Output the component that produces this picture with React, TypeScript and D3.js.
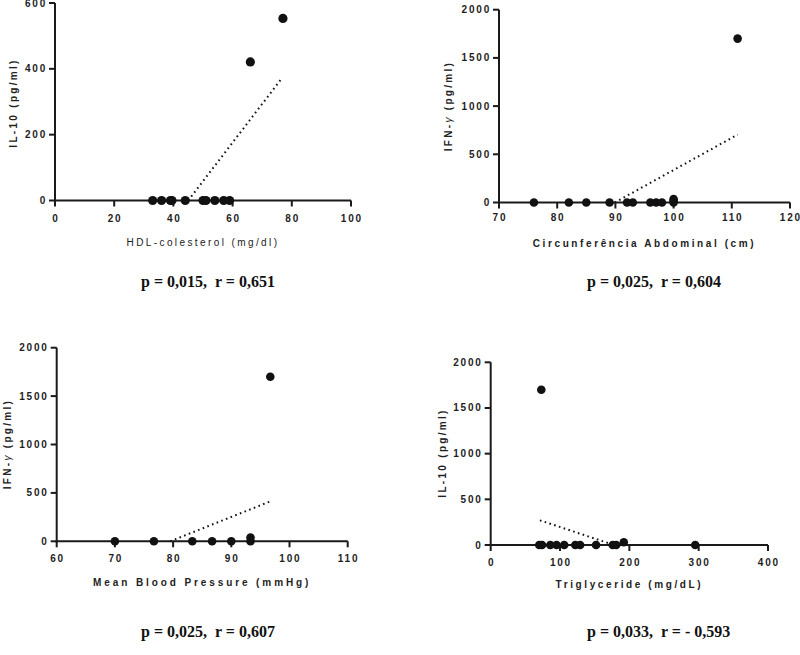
import React from "react";
import * as d3 from "d3";

// ---- Data ----
const hdlX = [33, 36, 39, 39.5, 44, 50, 51, 54, 57, 59, 66, 77];
const hdlY = [0, 0, 0, 0, 0, 0, 0, 0, 0, 0, 421, 553];
const hdlFit = [[45, 0], [76.7, 372]];
const hdlXTicks = [0, 20, 40, 60, 80, 100];
const hdlYTicks = [0, 200, 400, 600];

const circX = [76, 82, 85, 89, 92, 93, 96, 97, 98, 100, 100, 100, 111];
const circY = [0, 0, 0, 0, 0, 0, 0, 0, 0, 0, 15, 35, 1700];
const circFit = [[89.9, 0], [111, 704]];
const circXTicks = [70, 80, 90, 100, 110, 120];

const mbpX = [70, 76.7, 83.3, 86.7, 90, 93.3, 93.3, 96.7];
const mbpY = [0, 0, 0, 0, 0, 0, 40, 1700];
const mbpFit = [[79.5, 0], [96.6, 410]];
const mbpXTicks = [60, 70, 80, 90, 100, 110];

const tgX = [70, 74, 73, 86, 95, 106, 122, 129, 152, 176, 181, 192, 295];
const tgY = [0, 0, 1700, 0, 0, 0, 0, 0, 0, 0, 0, 30, 0];
const tgFit = [[71, 270], [178, 0]];
const tgXTicks = [0, 100, 200, 300, 400];

const cytoYTicks = [0, 500, 1000, 1500, 2000];

const stats = [
  "p = 0,015,  r = 0,651",
  "p = 0,025,  r = 0,604",
  "p = 0,025,  r = 0,607",
  "p = 0,033,  r = - 0,593",
];

type PanelProps = {
  xs: number[]; ys: number[]; fit: number[][];
  xDomain: [number, number]; yDomain: [number, number];
  xRange: [number, number]; yRange: [number, number];
  xTicks: number[]; yTicks: number[];
  xTitle: string; xTitleBold: boolean; xTitleY: number; xTitleSpacing: number;
  yTitle: React.ReactNode; yTitleX: number; yTitleY: number;
  xLabelOffset: number; r: number;
};

const tickFont = "'Liberation Sans', Arial, sans-serif";

function Panel(p: PanelProps) {
  const x = d3.scaleLinear().domain(p.xDomain).range(p.xRange);
  const y = d3.scaleLinear().domain(p.yDomain).range(p.yRange);
  const line = d3.line<number[]>().x((d) => x(d[0])).y((d) => y(d[1]));
  const x0 = p.xRange[0];
  const y0 = p.yRange[0];
  return (
    <g>
      <path d={line(p.fit) || ""} fill="none" stroke="#111" strokeWidth={2} strokeDasharray="1.6 3.4" />
      <line x1={x0} x2={x0} y1={y0 + 1} y2={p.yRange[1]} stroke="#1a1a1a" strokeWidth={2} />
      <line x1={x0 - 1} x2={p.xRange[1]} y1={y0} y2={y0} stroke="#1a1a1a" strokeWidth={2} />
      {p.yTicks.map((t) => (
        <g key={"y" + t}>
          <line x1={x0 - 6} x2={x0} y1={y(t)} y2={y(t)} stroke="#1a1a1a" strokeWidth={2} />
          <text x={x0 - 8} y={y(t) + 3.5} textAnchor="end" fontFamily={tickFont} fontWeight="bold" fontSize={10} letterSpacing={1.8} fill="#1e1e1e">{t}</text>
        </g>
      ))}
      {p.xTicks.map((t) => (
        <g key={"x" + t}>
          <line x1={x(t)} x2={x(t)} y1={y0} y2={y0 + 6} stroke="#1a1a1a" strokeWidth={2} />
          <text x={x(t) + 0.9} y={y0 + p.xLabelOffset} textAnchor="middle" fontFamily={tickFont} fontWeight="bold" fontSize={10} letterSpacing={1.8} fill="#1e1e1e">{t}</text>
        </g>
      ))}
      {p.xs.map((v, i) => (
        <circle key={"c" + i} cx={x(v)} cy={y(p.ys[i])} r={p.r} fill="#111" />
      ))}
      <text x={(p.xRange[0] + p.xRange[1]) / 2} y={p.xTitleY} textAnchor="middle" fontFamily={tickFont} fontWeight={p.xTitleBold ? "bold" : "normal"} fontSize={10} letterSpacing={p.xTitleSpacing} fill="#222">{p.xTitle}</text>
      <text transform={`translate(${p.yTitleX},${p.yTitleY}) rotate(-90)`} textAnchor="middle" fontFamily={tickFont} fontWeight="bold" fontSize={10} letterSpacing={2.3} fill="#222">{p.yTitle}</text>
    </g>
  );
}

export default function App() {
  return (
    <div style={{ position: "absolute", left: 0, top: 0 }}>
      <svg width={800} height={655} style={{ display: "block", background: "#fff" }}>
        <Panel xs={hdlX} ys={hdlY} fit={hdlFit} xDomain={[0, 100]} yDomain={[0, 600]}
          xRange={[55, 351]} yRange={[200.5, 3]} xTicks={hdlXTicks} yTicks={hdlYTicks}
          xTitle="HDL-colesterol (mg/dl)" xTitleBold={false} xTitleY={246} xTitleSpacing={2.4}
          yTitle="IL-10 (pg/ml)" yTitleX={16.5} yTitleY={103} xLabelOffset={21.5} r={4.6} />
        <Panel xs={circX} ys={circY} fit={circFit} xDomain={[70, 120]} yDomain={[0, 2000]}
          xRange={[499, 790]} yRange={[202.5, 9.7]} xTicks={circXTicks} yTicks={cytoYTicks}
          xTitle="Circunferência Abdominal (cm)" xTitleBold={true} xTitleY={246.5} xTitleSpacing={2.6}
          yTitle={<tspan>IFN-<tspan fontStyle="italic" fontWeight="normal">γ</tspan>{"  (pg/ml)"}</tspan>} yTitleX={452} yTitleY={106} xLabelOffset={18.5} r={4.3} />
        <Panel xs={mbpX} ys={mbpY} fit={mbpFit} xDomain={[60, 110]} yDomain={[0, 2000]}
          xRange={[56.7, 347.7]} yRange={[541.3, 347.7]} xTicks={mbpXTicks} yTicks={cytoYTicks}
          xTitle="Mean Blood Pressure (mmHg)" xTitleBold={true} xTitleY={586} xTitleSpacing={2.9}
          yTitle={<tspan>IFN-<tspan fontStyle="italic" fontWeight="normal">γ</tspan>{"  (pg/ml)"}</tspan>} yTitleX={10.5} yTitleY={444} xLabelOffset={21} r={4.3} />
        <Panel xs={tgX} ys={tgY} fit={tgFit} xDomain={[0, 400]} yDomain={[0, 2000]}
          xRange={[490.7, 768]} yRange={[545, 362.3]} xTicks={tgXTicks} yTicks={cytoYTicks}
          xTitle="Triglyceride (mg/dL)" xTitleBold={true} xTitleY={587.5} xTitleSpacing={2.6}
          yTitle="IL-10 (pg/ml)" yTitleX={446} yTitleY={453} xLabelOffset={21.4} r={4.3} />
        {stats.map((s, i) => (
          <text key={s} x={i % 2 === 0 ? 141 : 587} y={i < 2 ? 287 : 637}
            fontFamily="'Liberation Serif', 'Times New Roman', serif" fontWeight="bold" fontSize={16} fill="#111"
            style={{ whiteSpace: "pre" }}>{s}</text>
        ))}
      </svg>
    </div>
  );
}
